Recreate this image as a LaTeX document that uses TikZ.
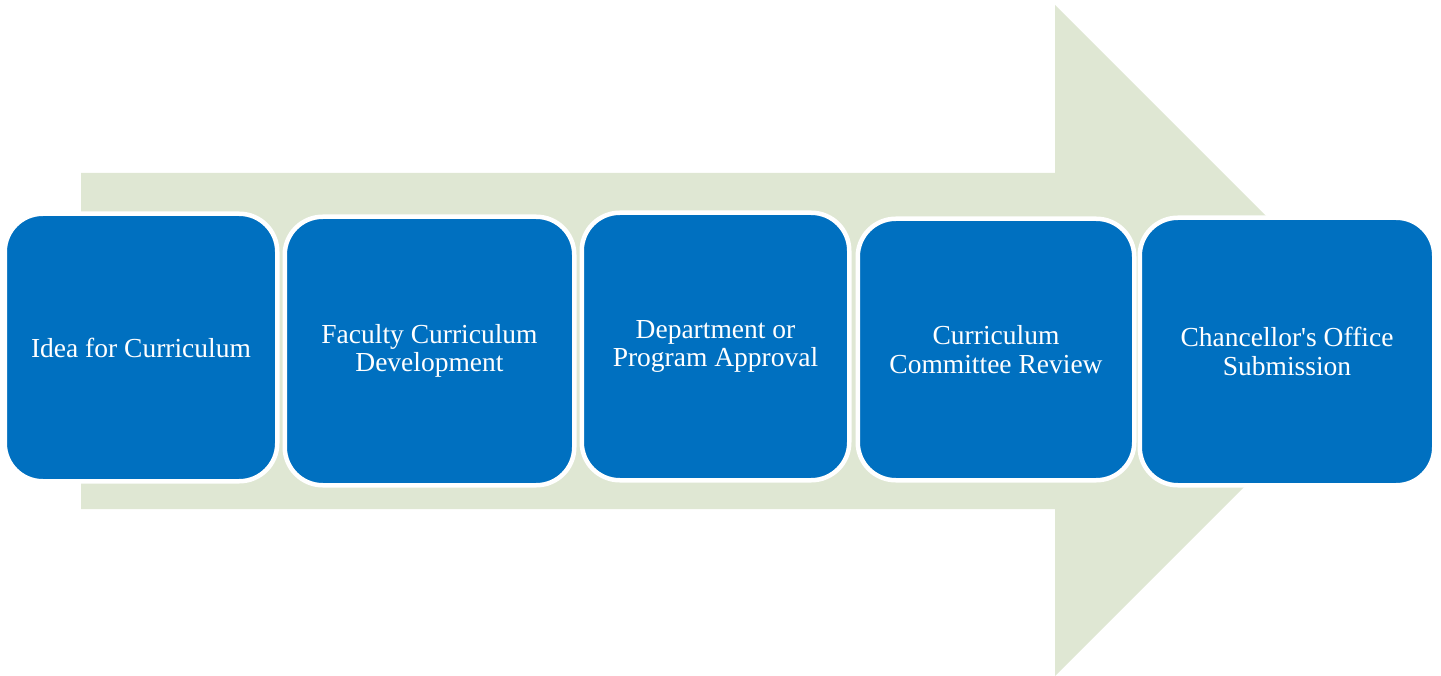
\documentclass[tikz,border=0pt]{standalone}
\usepackage{fontspec}
\setmainfont{Liberation Serif}
\definecolor{boxblue}{HTML}{0070C0}
\definecolor{arrowgreen}{HTML}{DFE7D3}
\begin{document}
\begin{tikzpicture}[x=1pt,y=-1pt,
  stepbox/.style={draw=white, line width=4.5pt, fill=boxblue, rounded corners=38pt,
    text=white, align=center, inner sep=0pt,
    font=\fontsize{27.5}{28.5}\selectfont}]
\useasboundingbox (0,0) rectangle (1441,676);
\fill[arrowgreen] (81,173) -- (1055,173) -- (1055,5) -- (1390.5,340.5) -- (1055,676) -- (1055,509) -- (81,509) -- cycle;
\node[stepbox, minimum width=272.5pt, minimum height=267.5pt] (s1) at (141,347.5) {Idea for Curriculum};
\node[stepbox, minimum width=289.5pt, minimum height=268.5pt] (s2) at (429.5,351) {Faculty Curriculum\\Development};
\node[stepbox, minimum width=267.5pt, minimum height=267.5pt] (s3) at (715.5,346.5) {Department or\\Program Approval};
\node[stepbox, minimum width=276.5pt, minimum height=261.5pt] (s4) at (996,349.5) {Curriculum\\Committee Review};
\node[stepbox, minimum width=294.5pt, minimum height=267.5pt] (s5) at (1287,351.5) {Chancellor\textquotesingle s Office\\Submission};
\end{tikzpicture}
\end{document}
